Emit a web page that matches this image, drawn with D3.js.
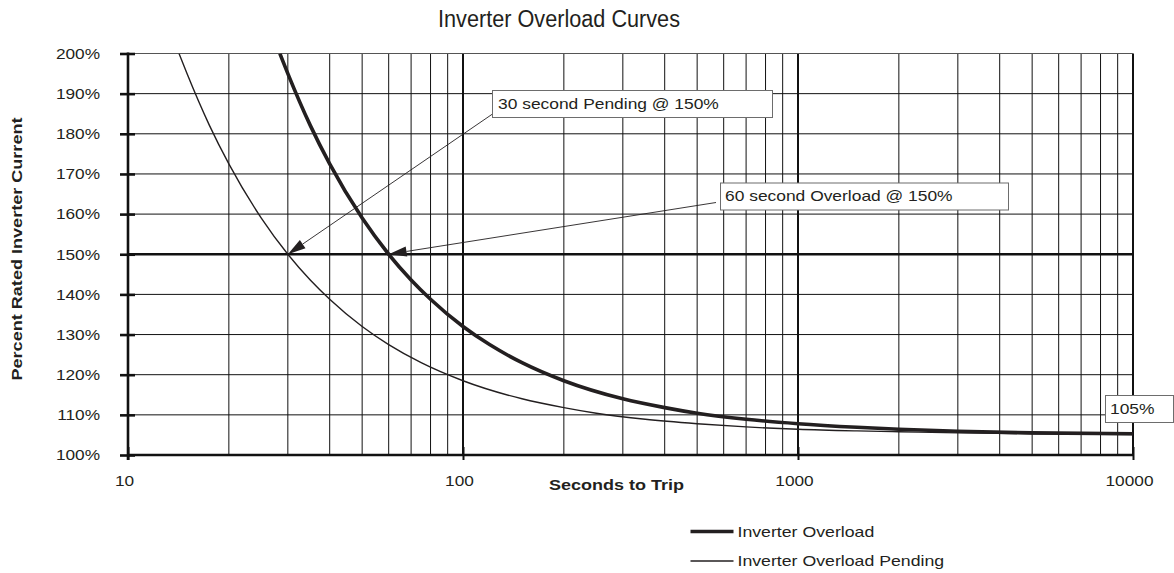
<!DOCTYPE html>
<html>
<head>
<meta charset="utf-8">
<script src="https://cdn.jsdelivr.net/npm/d3@7"></script>
<style>
  html, body { margin: 0; padding: 0; background: #fff; }
  svg { display: block; }
  text { font-family: "Liberation Sans", Arial, Helvetica, sans-serif; fill: #231f20; }
</style>
</head>
<body>
<svg id="chart" width="1174" height="573"></svg>
<script>
// Inverter overload trip curves: seconds to trip vs. percent of rated current
const overloadSeconds = [28.4, 30, 35, 40, 50, 60, 70, 80, 100, 120, 150, 200, 300, 400, 500, 700, 1000, 1500, 2000, 3000, 5000, 10000];
const overloadPercent = [200, 195, 182.1, 172.5, 159, 150, 143.6, 138.8, 132, 127.5, 123, 118.5, 114, 111.8, 110.4, 108.9, 107.8, 106.9, 106.4, 105.9, 105.5, 105.3];

const pendingSeconds = [14.2, 15, 17.5, 20, 25, 30, 35, 40, 50, 60, 75, 100, 150, 200, 250, 350, 500, 700, 1000, 1500, 2000, 3000, 5000, 10000];
const pendingPercent = [200, 195, 182.1, 172.5, 159, 150, 143.6, 138.8, 132, 127.5, 123, 118.5, 114, 111.8, 110.4, 108.9, 107.8, 107.0, 106.4, 106.0, 105.8, 105.5, 105.3, 105.1];

const xTickValues = [10, 100, 1000, 10000];
const yTickValues = [100, 110, 120, 130, 140, 150, 160, 170, 180, 190, 200];

const seriesNames = ["Inverter Overload", "Inverter Overload Pending"];

// Callouts: label, point (seconds, percent) the arrow points at
const calloutLabels = ["30 second Pending @ 150%", "60 second Overload @ 150%", "105%"];
const calloutSeconds = [30, 60, null];
const calloutPercent = [150, 150, 105];

const svg = d3.select("#chart");
const plotLeft = 128, plotRight = 1133, plotTop = 53.5, plotBottom = 455;

const x = d3.scaleLog().domain([10, 10000]).range([plotLeft, plotRight]);
const y = d3.scaleLinear().domain([100, 200]).range([plotBottom, plotTop]);

// widen glyphs slightly so labels take the same room as the printed face
function stretch(sel, k) {
  sel.each(function () {
    const w = this.getComputedTextLength();
    d3.select(this).attr("textLength", w * k).attr("lengthAdjust", "spacingAndGlyphs");
  });
}
function fitTo(sel, w) {
  sel.attr("textLength", w).attr("lengthAdjust", "spacingAndGlyphs");
}

// Title
svg.append("text")
  .attr("x", 559).attr("y", 27)
  .attr("text-anchor", "middle")
  .style("font-family", "'Liberation Sans Narrow', 'Liberation Sans', Arial, sans-serif")
  .style("font-size", "23px")
  .text("Inverter Overload Curves")
  .call(fitTo, 242);

// Grid: minor verticals for each decade
const grid = svg.append("g").attr("class", "grid");
const minorX = [];
[10, 100, 1000].forEach(d => { for (let k = 2; k <= 9; k++) minorX.push(d * k); });
grid.selectAll("line.vminor").data(minorX).join("line")
  .attr("x1", d => x(d)).attr("x2", d => x(d))
  .attr("y1", plotTop).attr("y2", plotBottom)
  .attr("stroke", "#111").attr("stroke-width", 1);

// decade verticals (heavier)
grid.selectAll("line.vmajor").data([100, 1000, 10000]).join("line")
  .attr("x1", d => x(d)).attr("x2", d => x(d))
  .attr("y1", plotTop).attr("y2", plotBottom)
  .attr("stroke", "#111").attr("stroke-width", 2);

// horizontals
grid.selectAll("line.h").data(yTickValues.filter(v => v > 100)).join("line")
  .attr("x1", plotLeft).attr("x2", plotRight)
  .attr("y1", d => y(d)).attr("y2", d => y(d))
  .attr("stroke", d => d === 200 ? "#555" : "#111")
  .attr("stroke-width", d => d === 150 ? 2.6 : 1);

// Y axis
const yAxis = svg.append("g")
  .attr("transform", `translate(${plotLeft},0)`)
  .call(d3.axisLeft(y).tickValues(yTickValues).tickSize(8).tickPadding(20).tickFormat(d => d + "%"));
yAxis.select(".domain").remove();
yAxis.selectAll(".tick line").attr("x1", -8).attr("x2", 7).attr("stroke", "#111").attr("stroke-width", 2.6);
yAxis.selectAll(".tick text").style("font-size", "15px").style("font-family", "'Liberation Sans', Arial, sans-serif")
  .attr("fill", "#231f20").call(stretch, 1.15);
svg.append("line").attr("x1", plotLeft).attr("x2", plotLeft).attr("y1", plotTop - 1).attr("y2", plotBottom + 5)
  .attr("stroke", "#111").attr("stroke-width", 2.6);

// X axis
const xAxis = svg.append("g")
  .attr("transform", `translate(0,${plotBottom})`)
  .call(d3.axisBottom(x).tickValues(xTickValues).tickSize(5).tickPadding(15).tickFormat(d3.format("d")));
xAxis.select(".domain").remove();
xAxis.selectAll(".tick line").attr("y1", -8).attr("y2", 5).attr("stroke", "#111").attr("stroke-width", 2);
xAxis.selectAll(".tick text").style("font-size", "15px").style("font-family", "'Liberation Sans', Arial, sans-serif")
  .attr("fill", "#231f20").attr("dx", -4).call(stretch, 1.15);
svg.append("line").attr("x1", plotLeft - 1).attr("x2", plotRight + 1).attr("y1", plotBottom).attr("y2", plotBottom)
  .attr("stroke", "#111").attr("stroke-width", 2.6);

// Axis titles
svg.append("text")
  .attr("x", 616.5).attr("y", 490)
  .attr("text-anchor", "middle")
  .style("font-size", "15px").style("font-weight", "bold")
  .text("Seconds to Trip")
  .call(fitTo, 135);

svg.append("text")
  .attr("transform", "translate(22,249) rotate(-90)")
  .attr("text-anchor", "middle")
  .style("font-size", "15px").style("font-weight", "bold")
  .text("Percent Rated Inverter Current")
  .call(fitTo, 263);

// Curves
svg.append("clipPath").attr("id", "plot-clip")
  .append("rect").attr("x", plotLeft).attr("y", plotTop).attr("width", plotRight - plotLeft).attr("height", plotBottom - plotTop);

const line = d3.line()
  .x(d => x(d[0]))
  .y(d => y(d[1]))
  .curve(d3.curveMonotoneX);

const overloadData = overloadSeconds.map((s, i) => [s, overloadPercent[i]]);
const pendingData = pendingSeconds.map((s, i) => [s, pendingPercent[i]]);

const curves = svg.append("g").attr("clip-path", "url(#plot-clip)");
curves.append("path").datum(pendingData)
  .attr("d", line).attr("fill", "none")
  .attr("stroke", "#231f20").attr("stroke-width", 1.4);
curves.append("path").datum(overloadData)
  .attr("d", line).attr("fill", "none")
  .attr("stroke", "#231f20").attr("stroke-width", 3.6);

// Callouts
const boxes = [
  { x: 492.5, y: 90.5, w: 280, h: 27, tx: 498, ty: 108.5, from: [492.5, 114] },
  { x: 720.5, y: 183, w: 288, h: 27, tx: 725, ty: 201, from: [716, 202.5] },
  { x: 1105.5, y: 395.5, w: 68, h: 27, tx: 1110, ty: 414, from: null }
];

const callouts = svg.append("g");
boxes.forEach((b, i) => {
  if (b.from && calloutSeconds[i] != null) {
    const tip = [x(calloutSeconds[i]), y(calloutPercent[i])];
    const dx = b.from[0] - tip[0], dy = b.from[1] - tip[1];
    const len = Math.hypot(dx, dy);
    const ux = dx / len, uy = dy / len;
    const headLen = 18, halfW = 5;
    const bx = tip[0] + ux * headLen, by = tip[1] + uy * headLen;
    callouts.append("line")
      .attr("x1", b.from[0]).attr("y1", b.from[1])
      .attr("x2", bx).attr("y2", by)
      .attr("stroke", "#231f20").attr("stroke-width", 0.9);
    callouts.append("path")
      .attr("d", `M${tip[0]},${tip[1]}L${bx - uy * halfW},${by + ux * halfW}L${bx + uy * halfW},${by - ux * halfW}Z`)
      .attr("fill", "#231f20");
  }
  callouts.append("rect")
    .attr("x", b.x).attr("y", b.y).attr("width", b.w).attr("height", b.h)
    .attr("fill", "#fff").attr("stroke", "#6d6d6d").attr("stroke-width", 1);
  callouts.append("text")
    .attr("x", b.tx).attr("y", b.ty)
    .style("font-size", "15px")
    .text(calloutLabels[i])
    .call(stretch, 1.16);
});

// Legend
const legend = svg.append("g");
const legendRows = [
  { y: 531.5, w: 3.6 },
  { y: 561, w: 1.4 }
];
legendRows.forEach((r, i) => {
  legend.append("line")
    .attr("x1", 690.5).attr("x2", 733.5).attr("y1", r.y).attr("y2", r.y)
    .attr("stroke", "#231f20").attr("stroke-width", r.w);
  legend.append("text")
    .attr("x", 737.5).attr("y", r.y + 5.3)
    .style("font-size", "15px")
    .text(seriesNames[i])
    .call(stretch, 1.18);
});
</script>
</body>
</html>
